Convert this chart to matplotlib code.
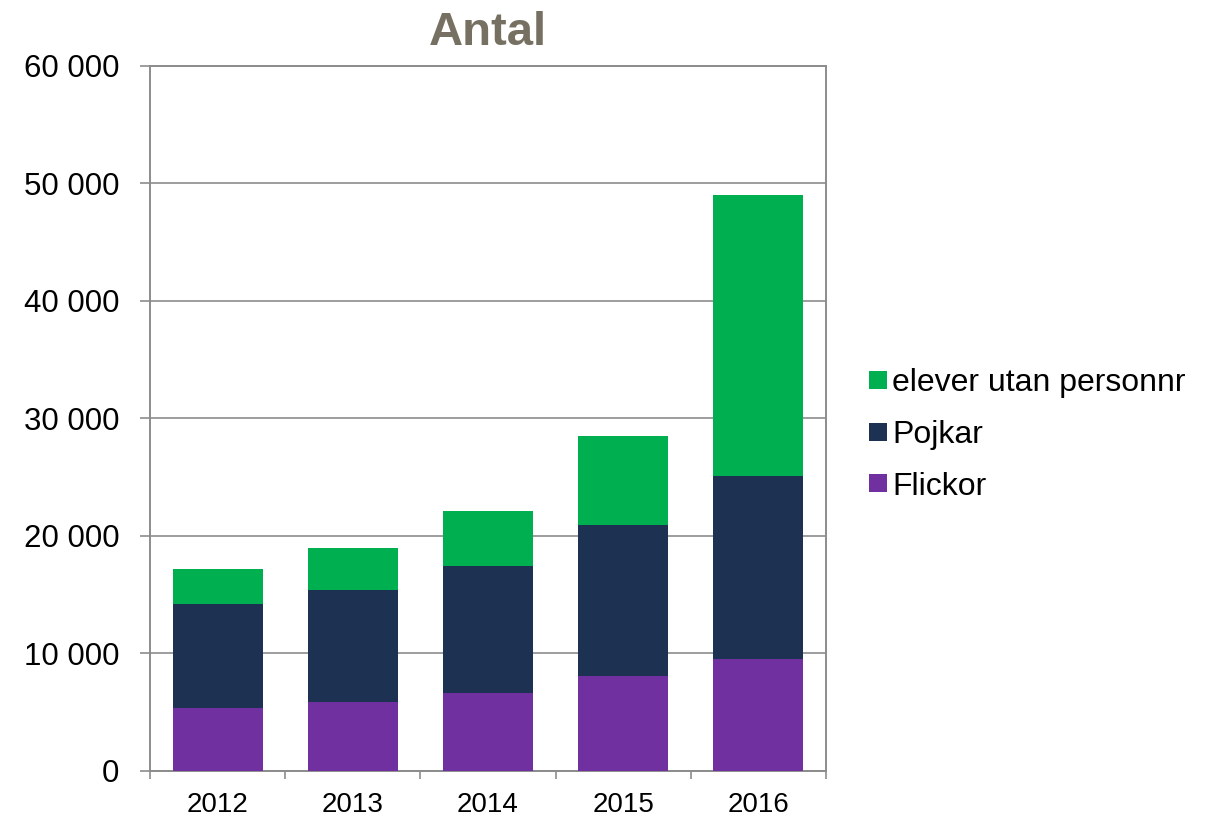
import matplotlib
matplotlib.use("Agg")
import matplotlib.pyplot as plt
import numpy as np
from matplotlib.ticker import FuncFormatter

plt.rcParams['font.family'] = ['Liberation Sans', 'DejaVu Sans']

# data
years = ['2012', '2013', '2014', '2015', '2016']
flickor = [5330, 5840, 6610, 8060, 9530]
pojkar = [8900, 9580, 10860, 12890, 15570]
utan_personnr = [2950, 3580, 4670, 7570, 23900]
yticks = [0, 10000, 20000, 30000, 40000, 50000, 60000]

c_flickor = '#7030A0'
c_pojkar = '#1D3152'
c_utan = '#00AF50'
grid_col = '#8C8C8C'

fig = plt.figure(figsize=(12.15, 8.16), dpi=100)
ax = fig.add_axes([150 / 1215, 1 - 771 / 816, 676 / 1215, 705.3 / 816])

x = np.arange(len(years))
w = 0.667
b1 = ax.bar(x, flickor, w, color=c_flickor, label='Flickor', zorder=3)
b2 = ax.bar(x, pojkar, w, bottom=flickor, color=c_pojkar, label='Pojkar', zorder=3)
base = np.array(flickor) + np.array(pojkar)
b3 = ax.bar(x, utan_personnr, w, bottom=base, color=c_utan,
            label='elever utan personnr', zorder=3)

ax.set_xlim(-0.5, len(years) - 0.5)
ax.set_ylim(0, 60000)
ax.set_yticks(yticks)
ax.yaxis.set_major_formatter(FuncFormatter(lambda v, p: f'{int(v):,}'.replace(',', ' ')))
ax.yaxis.grid(True, color=grid_col, linewidth=1.2, zorder=0)

# x ticks sit between categories, labels centred under the bars
ax.set_xticks(np.arange(len(years) + 1) - 0.5)
ax.set_xticklabels([])
ax.set_xticks(x, minor=True)
ax.set_xticklabels(years, minor=True, fontsize=20)
ax.tick_params(axis='x', which='minor', length=0, pad=15)
ax.tick_params(axis='x', which='major', length=6, width=1.2, color=grid_col, direction='out')
ax.tick_params(axis='y', length=7, width=1.2, color=grid_col, direction='out',
               labelsize=22.5, pad=15)

for s in ax.spines.values():
    s.set_color(grid_col)
    s.set_linewidth(1.4)

ax.set_title('Antal', fontsize=34, fontweight='bold', color='#767063', pad=15)

fig.legend(handles=[b3, b2, b1], loc='center left',
           bbox_to_anchor=(869 / 1215, 1 - 435 / 816),
           frameon=False, fontsize=23, borderpad=0, borderaxespad=0,
           handlelength=0.55, handleheight=0.5, handletextpad=0.17,
           labelspacing=0.68)

fig.savefig('out.png', dpi=100)
